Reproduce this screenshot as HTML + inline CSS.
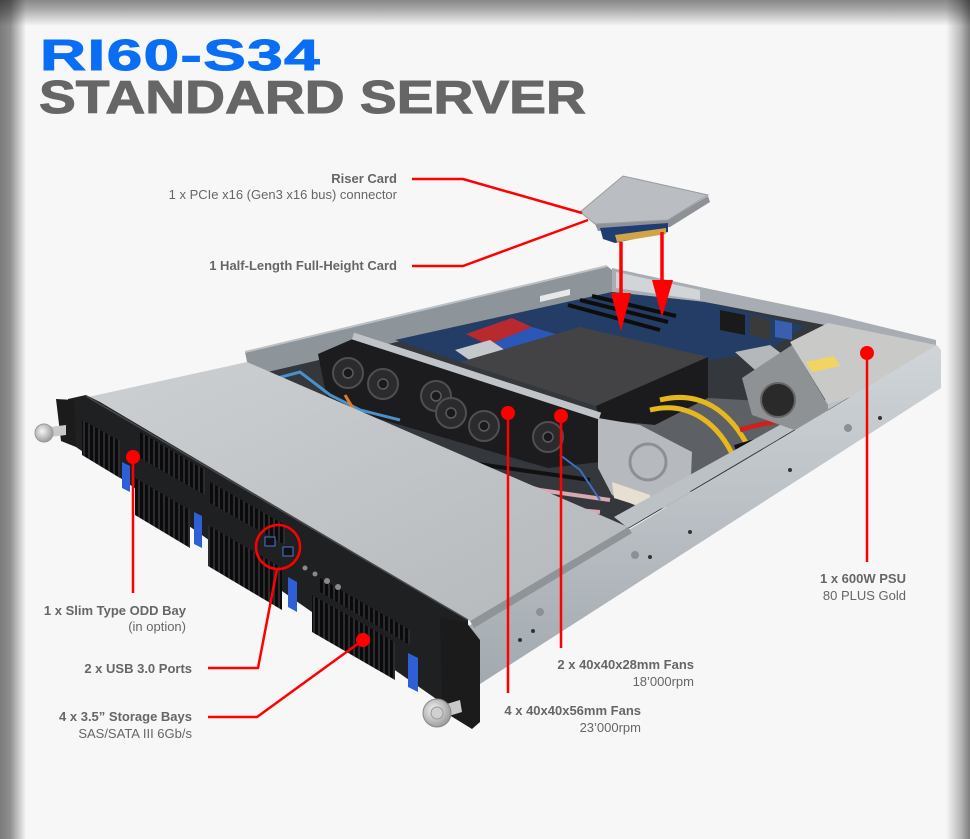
<!DOCTYPE html>
<html><head><meta charset="utf-8"><style>
html,body{margin:0;padding:0;background:#f7f7f7;}
svg{display:block;}
text{font-family:"Liberation Sans",Arial,sans-serif;}
</style></head><body>
<svg width="970" height="839" viewBox="0 0 970 839" xmlns="http://www.w3.org/2000/svg">
<defs>
<linearGradient id="lidG" x1="0" y1="0" x2="1" y2="1"><stop offset="0" stop-color="#cdd0d2"/><stop offset="1" stop-color="#b4b8bb"/></linearGradient>
<linearGradient id="railG" x1="0" y1="0" x2="0" y2="1"><stop offset="0" stop-color="#d0d5d9"/><stop offset="1" stop-color="#a2a9ae"/></linearGradient>
<radialGradient id="knobG" cx="0.4" cy="0.4" r="0.7"><stop offset="0" stop-color="#f6f6f6"/><stop offset="1" stop-color="#8f8f8f"/></radialGradient>
<linearGradient id="vl" x1="0" y1="0" x2="1" y2="0"><stop offset="0" stop-color="#000" stop-opacity=".5"/><stop offset=".4" stop-color="#000" stop-opacity=".42"/><stop offset="1" stop-color="#000" stop-opacity="0"/></linearGradient>
<linearGradient id="vt" x1="0" y1="0" x2="0" y2="1"><stop offset="0" stop-color="#000" stop-opacity=".45"/><stop offset=".35" stop-color="#000" stop-opacity=".32"/><stop offset="1" stop-color="#000" stop-opacity="0"/></linearGradient>
<linearGradient id="vr" x1="0" y1="0" x2="1" y2="0"><stop offset="0" stop-color="#000" stop-opacity="0"/><stop offset=".6" stop-color="#000" stop-opacity=".25"/><stop offset="1" stop-color="#000" stop-opacity=".5"/></linearGradient>
<pattern id="gr" width="5" height="5" patternUnits="userSpaceOnUse" patternTransform="skewY(30)"><rect width="5" height="5" fill="#2c2d30"/><rect width="3" height="5" fill="#0a0a0b"/></pattern>
</defs>
<rect width="970" height="839" fill="#f7f7f7"/>

<!-- Title -->
<text transform="translate(40,70) scale(1.45,1)" font-size="44" font-weight="bold" fill="#0a6ef5" stroke="#0a6ef5" stroke-width="1" letter-spacing="1">RI60-S34</text>
<text transform="translate(39,113) scale(1.2,1)" font-size="46" font-weight="bold" fill="#666666" stroke="#666666" stroke-width="1">STANDARD SERVER</text>

<!-- Interior floor -->
<polygon points="247,365 610,290 705,302 830,323 936,348 628,529" fill="#34373b"/>
<!-- back walls -->
<polygon points="245,352 607,266 612,270 612,292 250,376" fill="#8d949a"/>
<line x1="245" y1="352" x2="607" y2="266" stroke="#bcc1c5" stroke-width="2"/>
<polygon points="612,268 705,288 830,314 936,340 936,350 830,326 705,302 612,292" fill="#a7adb2"/>
<polygon points="616,272 700,290 700,300 616,288" fill="#d2d5d8"/>
<polygon points="540,296 570,289 570,295 540,302" fill="#e8e8e8"/>
<!-- motherboard -->
<polygon points="395,340 612,292 705,302 805,326 770,350 712,360 600,356 470,365" fill="#243d66"/>
<polygon points="466,334 512,318 532,327 488,345" fill="#b92a2e"/>
<polygon points="488,345 532,327 562,336 522,354" fill="#2a57b8"/>
<polygon points="455,350 490,340 515,357 478,366" fill="#c6c9cc"/>
<path d="M568,305 L660,330 M580,300 L668,322 M592,296 L676,316" stroke="#0d0d0d" stroke-width="4"/>
<polygon points="720,310 745,315 745,335 720,330" fill="#1a1a1a"/>
<polygon points="750,315 770,320 770,340 750,335" fill="#3a3a3a"/>
<polygon points="775,320 792,323 792,340 775,337" fill="#3a5fae"/>
<polygon points="735,352 770,345 790,360 755,370" fill="#b5b8bb"/>
<!-- shroud -->
<polygon points="460,362 580,327 708,357 596,406" fill="#434345"/>
<polygon points="596,406 708,357 708,398 655,425 600,422" fill="#1b1b1d"/>
<!-- fans -->
<polygon points="318,354 355,338 600,416 600,462 548,468 328,404" fill="#1c1c1e"/>
<line x1="353" y1="336" x2="600" y2="416" stroke="#c0c3c7" stroke-width="7"/>
<g fill="#2b2b2d" stroke="#4f4f52" stroke-width="2">
<circle cx="348" cy="373" r="15"/><circle cx="383" cy="384" r="15"/><circle cx="436" cy="396" r="15"/>
<circle cx="451" cy="413" r="15"/><circle cx="484" cy="426" r="15"/><circle cx="548" cy="437" r="15"/>
</g>
<g fill="#1a1a1a" stroke="#5a5a5a" stroke-width="1.5">
<circle cx="348" cy="373" r="5"/><circle cx="383" cy="384" r="5"/><circle cx="436" cy="396" r="5"/>
<circle cx="451" cy="413" r="5"/><circle cx="484" cy="426" r="5"/><circle cx="548" cy="437" r="5"/>
</g>
<!-- cables -->
<g fill="none">
<polyline points="300,395 340,420 400,440 470,470 540,490 610,500" stroke="#d8a9b3" stroke-width="4"/>
<polyline points="330,410 380,445 450,478 520,505 600,512" stroke="#d8a9b3" stroke-width="4"/>
<polyline points="420,455 470,485 530,512 590,520" stroke="#c99aa5" stroke-width="3"/>
<polyline points="270,380 300,372 330,395 360,410 400,420" stroke="#4b90c9" stroke-width="3"/>
<polyline points="380,430 450,460 520,470 590,480" stroke="#111" stroke-width="4"/>
<polyline points="345,395 360,420" stroke="#e07a2a" stroke-width="3"/>
<polyline points="560,455 580,470 600,500" stroke="#3b6fc0" stroke-width="2"/>
</g>
<!-- right compartment -->
<polygon points="600,420 655,425 708,398 830,405 780,437 700,483 640,517" fill="#5d6064"/>
<polygon points="598,418 640,425 692,452 690,500 650,512 612,495 598,468" fill="#b6babe"/>
<circle cx="648" cy="462" r="18" fill="none" stroke="#8c9094" stroke-width="3"/>
<polygon points="612,482 650,495 652,510 614,498" fill="#e6dfd2"/>
<g fill="none">
<path d="M660,400 C700,390 730,410 750,450" stroke="#e6b81e" stroke-width="5"/>
<path d="M650,410 C690,400 720,425 735,460" stroke="#e6b81e" stroke-width="5"/>
<path d="M740,430 C770,420 800,420 820,415" stroke="#cf2020" stroke-width="5"/>
<path d="M735,448 C760,440 785,435 800,430" stroke="#111" stroke-width="6"/>
</g>
<!-- rail inner band -->
<polygon points="936,346 628,528 614,517 915,350" fill="#bcc1c5"/>
<!-- PSU -->
<polygon points="742,378 792,345 828,405 828,420 800,432 752,415" fill="#8f9295"/>
<circle cx="778" cy="400" r="17" fill="#2a2a2a" stroke="#666" stroke-width="2"/>
<polygon points="790,342 828,323 936,345 908,380 828,404" fill="#c9cac8"/>
<polygon points="806,362 834,356 840,366 812,372" fill="#f2d462"/>
<!-- rail side -->
<polygon points="465,628 937,345 941,350 941,388 480,684 470,690" fill="url(#railG)"/>
<g fill="#333"><circle cx="520" cy="640" r="2"/><circle cx="533" cy="631" r="2"/><circle cx="650" cy="557" r="2"/><circle cx="690" cy="532" r="2"/><circle cx="790" cy="470" r="2"/><circle cx="880" cy="418" r="2"/></g>
<g fill="#8a9096"><circle cx="540" cy="612" r="4"/><circle cx="635" cy="555" r="4"/><circle cx="848" cy="428" r="4"/></g>
<!-- lid -->
<polygon points="88,397 247,362 628,527 470,621" fill="url(#lidG)"/>
<polygon points="628,527 632,533 474,628 470,621" fill="#8f9498"/>
<!-- bezel -->
<polygon points="68,399 86,395 100,402 468,620 470,700 442,703 76,447 68,440" fill="#1f2022"/>
<line x1="86" y1="396" x2="468" y2="620" stroke="#48494c" stroke-width="1.5"/>
<g fill="url(#gr)">
<polygon points="82,420 120,441 120,478 82,455"/>
<polygon points="140,432 205,470 205,495 140,458"/>
<polygon points="135,478 190,510 190,548 135,515"/>
<polygon points="210,482 285,525 285,545 210,503"/>
<polygon points="208,525 282,568 282,610 208,566"/>
<polygon points="312,595 395,642 395,680 312,632"/>
<polygon points="320,578 410,630 410,645 320,592"/>
</g>
<g fill="#2f5fd6">
<polygon points="122,462 130,466 130,492 122,488"/>
<polygon points="194,512 202,516 202,548 194,544"/>
<polygon points="288,577 297,582 297,612 288,607"/>
<polygon points="408,653 418,658 418,692 408,687"/>
</g>
<g fill="#111" stroke="#4a78d8" stroke-width="1"><rect x="265" y="537" width="10" height="9"/><rect x="283" y="547" width="10" height="9"/></g>
<g fill="#8a8a8a"><circle cx="305" cy="568" r="2.5"/><circle cx="315" cy="574" r="2.5"/><circle cx="327" cy="581" r="3"/><circle cx="338" cy="587" r="3"/></g>
<!-- ears & knobs -->
<polygon points="440,618 466,622 480,640 480,722 472,729 446,713 442,703" fill="#1b1b1c"/>
<polygon points="440,706 460,700 462,712 442,718" fill="#c9c9c9"/>
<circle cx="437" cy="713" r="14" fill="url(#knobG)" stroke="#888"/>
<circle cx="437" cy="713" r="6" fill="#d0d0d0" stroke="#999"/>
<polygon points="56,399 74,400 76,447 61,441" fill="#1b1b1c"/>
<polygon points="50,427 66,425 66,435 50,437" fill="#c9c9c9"/>
<circle cx="44" cy="433" r="9" fill="url(#knobG)" stroke="#999"/>

<!-- Riser card -->
<polygon points="595,224 668,220 708,196 710,202 670,227 598,231" fill="#8e9296"/>
<polygon points="580,212 623,176 708,195 668,220 595,224" fill="#babdc1" stroke="#9a9ea2"/>
<polygon points="600,228 668,223 668,232 615,243 603,239" fill="#1f3d72"/>
<polygon points="615,235 666,228 666,234 617,242" fill="#d1a447"/>

<!-- Red connectors -->
<g stroke="#ff0000" stroke-width="2.5" fill="none">
<polyline points="412,179 463,179 582,213"/>
<polyline points="412,266 463,266 588,220"/>
<line x1="621" y1="242" x2="621" y2="298" stroke-width="3.5"/>
<line x1="662" y1="232" x2="662" y2="285" stroke-width="3.5"/>
<line x1="133" y1="457" x2="133" y2="593"/>
<circle cx="278" cy="547" r="22"/>
<polyline points="277,569 258,668 208,668"/>
<polyline points="363,640 257,717 208,717"/>
<line x1="508" y1="413" x2="508" y2="693"/>
<line x1="561" y1="416" x2="561" y2="648"/>
<line x1="867" y1="353" x2="867" y2="562"/>
</g>
<g fill="#ff0000">
<polygon points="611,293 631,293 621,331"/>
<polygon points="652,280 673,280 662,317"/>
<circle cx="133" cy="457" r="7"/>
<circle cx="363" cy="640" r="7"/>
<circle cx="508" cy="413" r="7"/>
<circle cx="561" cy="416" r="7"/>
<circle cx="867" cy="353" r="7"/>
</g>

<!-- Labels -->
<g font-size="13" fill="#666666" text-anchor="end">
<text x="397" y="183" font-weight="bold">Riser Card</text>
<text x="397" y="199">1 x PCIe x16 (Gen3 x16 bus) connector</text>
<text x="397" y="270" font-weight="bold">1 Half-Length Full-Height Card</text>
<text x="186" y="615" font-weight="bold">1 x Slim Type ODD Bay</text>
<text x="186" y="631">(in option)</text>
<text x="192" y="673" font-weight="bold">2 x USB 3.0 Ports</text>
<text x="192" y="721" font-weight="bold">4 x 3.5” Storage Bays</text>
<text x="192" y="738">SAS/SATA III 6Gb/s</text>
<text x="906" y="583" font-weight="bold">1 x 600W PSU</text>
<text x="906" y="600">80 PLUS Gold</text>
<text x="694" y="669" font-weight="bold">2 x 40x40x28mm Fans</text>
<text x="694" y="686">18’000rpm</text>
<text x="641" y="715" font-weight="bold">4 x 40x40x56mm Fans</text>
<text x="641" y="732">23’000rpm</text>
</g>

<!-- Vignette -->
<rect x="0" y="0" width="970" height="26" fill="url(#vt)"/>
<rect x="0" y="0" width="26" height="839" fill="url(#vl)"/>
<rect x="946" y="0" width="24" height="839" fill="url(#vr)"/>
</svg>
</body></html>
